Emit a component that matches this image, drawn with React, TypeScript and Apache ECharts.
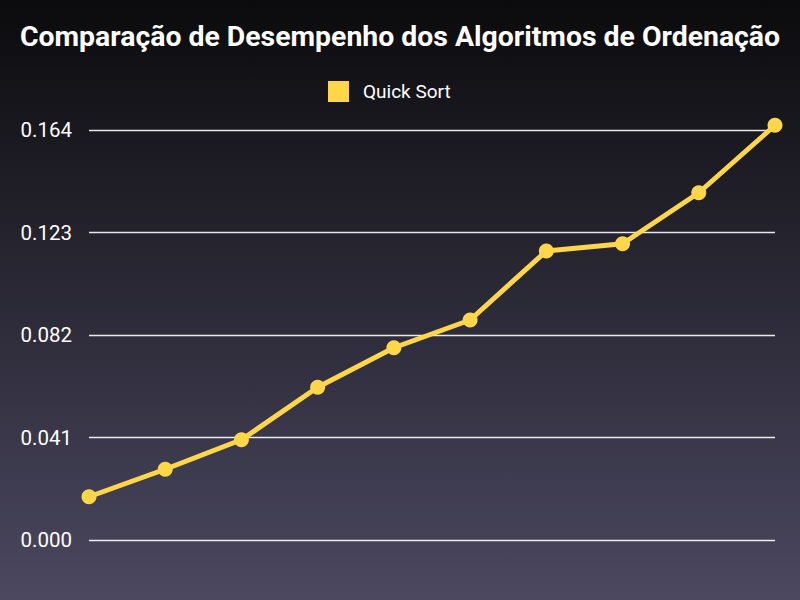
import React, { useEffect, useRef } from "react";
import * as echarts from "echarts";

const categories = ["1", "2", "3", "4", "5", "6", "7", "8", "9", "10"];
const quickSort = [0.0173, 0.0283, 0.0401, 0.0611, 0.0769, 0.088, 0.1156, 0.1185, 0.1389, 0.1659];
const yTicks = { min: 0, max: 0.164, interval: 0.041 };

export default function App() {
  const ref = useRef<HTMLDivElement>(null);
  useEffect(() => {
    if (!ref.current) return;
    const chart = echarts.init(ref.current, null, { renderer: "svg" });
    chart.setOption({
      animation: false,
      backgroundColor: new echarts.graphic.LinearGradient(0, 0, 0, 1, [
        { offset: 0, color: "#0b0b0d" },
        { offset: 1, color: "#4b4860" },
      ]),
      title: {
        text: "Comparação de Desempenho dos Algoritmos de Ordenação",
        left: "center",
        top: 17,
        textStyle: { color: "#ffffff", fontFamily: "Roboto", fontWeight: "bold", fontSize: 28.4 },
      },
      legend: {
        data: ["Quick Sort"],
        top: 76,
        left: 323,
        icon: "rect",
        itemWidth: 21,
        itemHeight: 21,
        itemGap: 10,
        textStyle: { color: "#ffffff", fontFamily: "Roboto", fontSize: 19, padding: [0, 0, 0, 9] },
      },
      grid: { left: 89, right: 25, top: 130, bottom: 60 },
      xAxis: {
        type: "category",
        data: categories,
        boundaryGap: false,
        axisLine: { show: false },
        axisTick: { show: false },
        axisLabel: { show: false },
        splitLine: { show: false },
      },
      yAxis: {
        type: "value",
        min: yTicks.min,
        max: yTicks.max,
        interval: yTicks.interval,
        axisLine: { show: false },
        axisTick: { show: false },
        axisLabel: {
          color: "#ffffff",
          fontFamily: "Roboto",
          fontSize: 20.5,
          margin: 17,
          formatter: (v: number) => v.toFixed(3),
        },
        splitLine: { lineStyle: { color: "rgba(255,255,255,0.9)", width: 1.3 } },
      },
      series: [
        {
          name: "Quick Sort",
          type: "line",
          data: quickSort,
          clip: false,
          symbol: "circle",
          symbolSize: 15,
          itemStyle: { color: "#fdd64a" },
          lineStyle: { color: "#fdd64a", width: 5 },
        },
      ],
    });
    return () => chart.dispose();
  }, []);
  return <div ref={ref} style={{ width: 800, height: 600, position: "fixed", left: 0, top: 0 }} />;
}
